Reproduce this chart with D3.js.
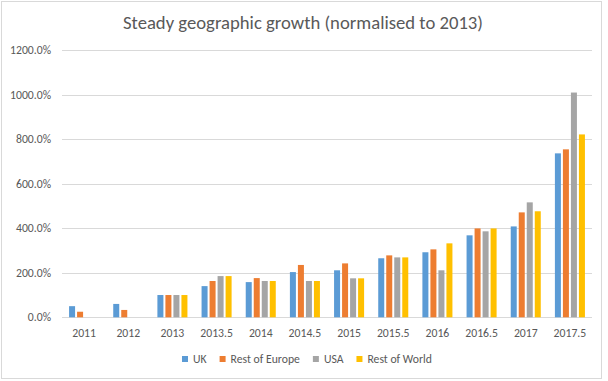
<!DOCTYPE html>
<html>
<head>
<meta charset="utf-8">
<script src="https://cdn.jsdelivr.net/npm/d3@7"></script>
<style>
  body { margin: 0; background: #fff; }
  text { font-family: Carlito, Calibri, "Open Sans", "Noto Sans", sans-serif; fill: #595959; }
</style>
</head>
<body>
<div id="chart"></div>
<script>
// values (percent of 2013)
const categories = ["2011", "2012", "2013", "2013.5", "2014", "2014.5", "2015", "2015.5", "2016", "2016.5", "2017", "2017.5"];
const uk = [50, 60, 100, 140, 158, 203, 211, 265, 292, 368, 408, 736];
const restOfEurope = [25, 33, 100, 163, 176, 235, 242, 278, 305, 399, 471, 754];
const usa = [null, null, 100, 185, 163, 163, 175, 269, 211, 386, 516, 1009];
const restOfWorld = [null, null, 100, 185, 163, 163, 175, 269, 332, 399, 476, 821];
const seriesNames = ["UK", "Rest of Europe", "USA", "Rest of World"];
const yTicks = [0, 200, 400, 600, 800, 1000, 1200];

const colors = ["#5B9BD5", "#ED7D31", "#A5A5A5", "#FFC000"];
const allSeries = [uk, restOfEurope, usa, restOfWorld];

const width = 608, height = 381;
const plot = { left: 62, right: 592, top: 50, bottom: 317.3 };

const svg = d3.select("#chart").append("svg")
  .attr("width", width)
  .attr("height", height);

// chart frame
svg.append("rect")
  .attr("x", 1.5).attr("y", 1.5)
  .attr("width", 600).attr("height", 377)
  .attr("fill", "#fff")
  .attr("stroke", "#d9d9d9");

// shrink/grow font so text spans the width seen in the picture
function fit(sel, target) {
  sel.each(function () {
    const t = d3.select(this);
    const fs = parseFloat(t.attr("font-size"));
    const w = this.getComputedTextLength();
    t.attr("font-size", (fs * target / w).toFixed(2));
  });
}

const title = svg.append("text")
  .attr("x", 303).attr("y", 29)
  .attr("text-anchor", "middle")
  .attr("font-size", 18.6)
  .text("Steady geographic growth (normalised to 2013)");
fit(title, 360);

const x0 = d3.scaleBand()
  .domain(categories)
  .range([plot.left, plot.right])
  .paddingInner(0.32)
  .paddingOuter(0.16);

const x1 = d3.scaleBand()
  .domain(d3.range(4))
  .range([0, x0.bandwidth()])
  .paddingInner(0.25);

const y = d3.scaleLinear()
  .domain([0, 1200])
  .range([plot.bottom, plot.top]);

// gridlines + y labels
const grid = svg.append("g");
grid.selectAll("line")
  .data(yTicks)
  .enter().append("line")
  .attr("x1", plot.left).attr("x2", plot.right)
  .attr("y1", d => Math.round(y(d)) + 0.5)
  .attr("y2", d => Math.round(y(d)) + 0.5)
  .attr("stroke", "#d9d9d9");

const yLabels = grid.selectAll("text")
  .data(yTicks)
  .enter().append("text")
  .attr("x", 51)
  .attr("y", d => y(d) + 4)
  .attr("text-anchor", "end")
  .attr("font-size", 12)
  .text(d => d3.format(".1f")(d) + "%");
// scale all labels by the factor for "1200.0%"
const ref = yLabels.filter(d => d === 1200).node();
const yfs = 12 * 41 / ref.getComputedTextLength();
yLabels.attr("font-size", yfs.toFixed(2));

// bars
const groups = svg.append("g")
  .selectAll("g")
  .data(categories)
  .enter().append("g")
  .attr("transform", d => "translate(" + x0(d) + ",0)");

groups.selectAll("rect")
  .data((d, i) => allSeries.map((s, k) => ({ k: k, v: s[i] })).filter(e => e.v != null))
  .enter().append("rect")
  .attr("x", d => x1(d.k))
  .attr("width", x1.bandwidth())
  .attr("y", d => y(d.v))
  .attr("height", d => y(0) - y(d.v))
  .attr("fill", d => colors[d.k]);

// x labels
svg.append("g")
  .selectAll("text")
  .data(categories)
  .enter().append("text")
  .attr("x", d => x0(d) + x0.bandwidth() / 2)
  .attr("y", 336.7)
  .attr("text-anchor", "middle")
  .attr("font-size", yfs.toFixed(2))
  .text(d => d);

// legend
const legend = svg.append("g");
let lx = 182;
seriesNames.forEach(function (name, k) {
  legend.append("rect")
    .attr("x", lx).attr("y", 356)
    .attr("width", 6).attr("height", 6)
    .attr("fill", colors[k]);
  const t = legend.append("text")
    .attr("x", lx + 11)
    .attr("y", 363.3)
    .attr("font-size", yfs.toFixed(2))
    .text(name);
  lx += 11 + t.node().getComputedTextLength() + 13;
});
</script>
</body>
</html>
